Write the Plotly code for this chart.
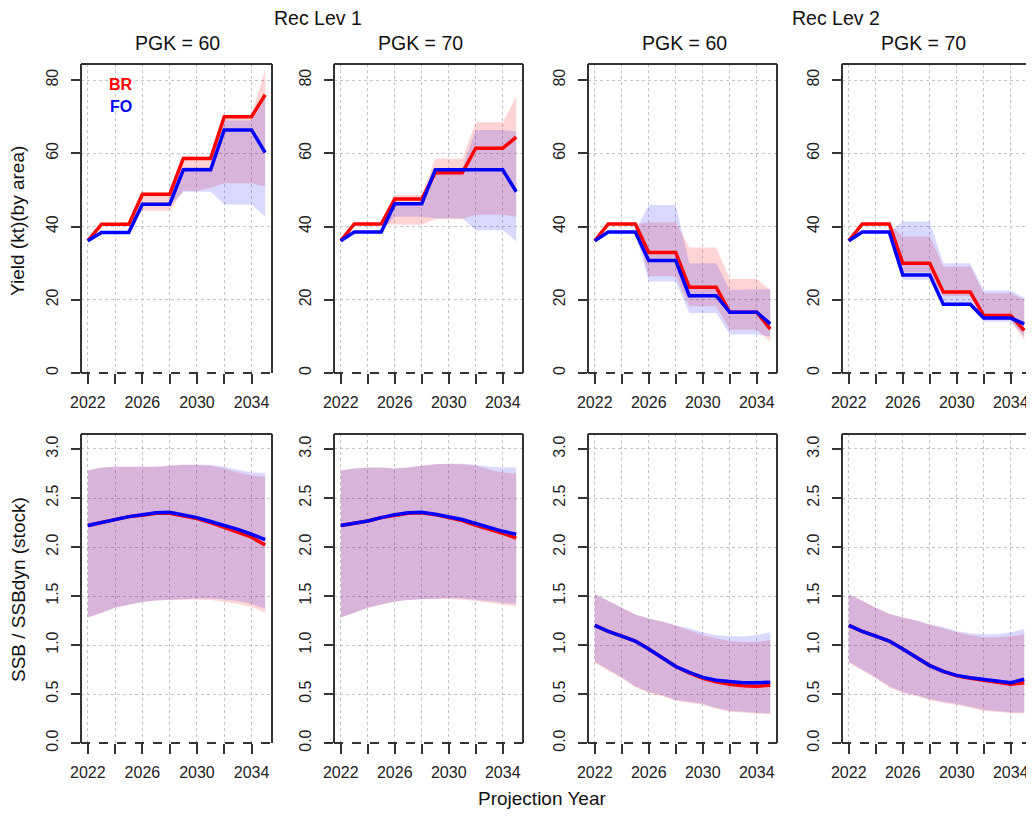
import plotly.graph_objects as go

# ---------------- data ----------------
years = list(range(2022, 2036))
x_tick_vals = [2022, 2024, 2026, 2028, 2030, 2032, 2034]
x_tick_text = ["2022", "", "2026", "", "2030", "", "2034"]
yield_tick_vals = [0, 20, 40, 60, 80]
yield_tick_text = ["0", "20", "40", "60", "80"]
ssb_tick_vals = [0.0, 0.5, 1.0, 1.5, 2.0, 2.5, 3.0]
ssb_tick_text = ["0.0", "0.5", "1.0", "1.5", "2.0", "2.5", "3.0"]

rec_levels = ["Rec Lev 1", "Rec Lev 2"]
pgk_labels = ["PGK = 60", "PGK = 70", "PGK = 60", "PGK = 70"]
series_names = ["BR", "FO"]
y_titles = ["Yield (kt)(by area)", "SSB / SSBdyn (stock)"]
x_title = "Projection Year"

# Yield, Rec Lev 1, PGK 60
yA_br_med = [36.1, 40.6, 40.6, 40.6, 48.8, 48.8, 48.8, 58.6, 58.6, 58.6, 70.0, 70.0, 70.0, 76.0]
yA_br_hi = [36.1, 40.6, 40.6, 40.6, 49.3, 49.3, 49.3, 59.2, 59.2, 59.2, 70.5, 70.5, 70.5, 83.0]
yA_br_lo = [36.1, 40.6, 40.6, 40.6, 44.3, 44.3, 44.3, 49.8, 49.8, 50.5, 51.8, 51.8, 51.8, 51.0]
yA_fo_med = [36.1, 38.4, 38.4, 38.4, 46.1, 46.1, 46.1, 55.5, 55.5, 55.5, 66.4, 66.4, 66.4, 60.2]
yA_fo_hi = [36.1, 38.4, 38.4, 38.4, 46.6, 46.6, 46.6, 56.3, 56.3, 56.3, 69.0, 69.0, 69.0, 75.0]
yA_fo_lo = [36.1, 38.4, 38.4, 38.4, 45.6, 45.6, 45.6, 49.5, 49.5, 49.5, 46.0, 46.0, 46.0, 42.7]

# Yield, Rec Lev 1, PGK 70
yB_br_med = [36.1, 40.7, 40.7, 40.7, 47.5, 47.5, 47.5, 54.7, 54.7, 54.7, 61.4, 61.4, 61.4, 64.4]
yB_br_hi = [36.1, 40.7, 40.7, 40.7, 48.6, 48.6, 48.6, 58.5, 58.5, 58.5, 68.5, 68.5, 68.5, 75.5]
yB_br_lo = [36.1, 40.7, 40.7, 40.7, 40.5, 40.5, 40.5, 42.0, 42.0, 42.0, 43.2, 43.2, 43.2, 42.7]
yB_fo_med = [36.1, 38.5, 38.5, 38.5, 46.2, 46.2, 46.2, 55.5, 55.5, 55.5, 55.5, 55.5, 55.5, 49.5]
yB_fo_hi = [36.1, 38.5, 38.5, 38.5, 46.7, 46.7, 46.7, 56.0, 56.0, 56.0, 66.4, 66.4, 66.4, 66.0]
yB_fo_lo = [36.1, 38.5, 38.5, 38.5, 42.7, 42.7, 42.7, 42.3, 42.3, 42.3, 39.0, 39.0, 39.0, 36.0]

# Yield, Rec Lev 2, PGK 60
yC_br_med = [36.1, 40.7, 40.7, 40.7, 32.9, 32.9, 32.9, 23.4, 23.4, 23.4, 16.6, 16.6, 16.6, 12.0]
yC_br_hi = [36.1, 40.7, 40.7, 40.7, 41.2, 41.2, 41.2, 34.3, 34.3, 34.3, 25.7, 25.7, 25.7, 22.7]
yC_br_lo = [36.1, 40.7, 40.7, 40.7, 26.4, 26.4, 26.4, 18.2, 18.2, 18.2, 11.8, 11.8, 11.8, 8.6]
yC_fo_med = [36.1, 38.5, 38.5, 38.5, 30.7, 30.7, 30.7, 21.1, 21.1, 21.1, 16.6, 16.6, 16.6, 13.4]
yC_fo_hi = [36.1, 38.5, 38.5, 38.5, 45.9, 45.9, 45.9, 30.0, 30.0, 30.0, 22.7, 22.7, 22.7, 22.9]
yC_fo_lo = [36.1, 38.5, 38.5, 38.5, 25.0, 25.0, 25.0, 16.4, 16.4, 16.4, 10.5, 10.5, 10.5, 10.0]

# Yield, Rec Lev 2, PGK 70
yD_br_med = [36.1, 40.7, 40.7, 40.7, 30.0, 30.0, 30.0, 22.1, 22.1, 22.1, 15.7, 15.7, 15.7, 11.6]
yD_br_hi = [36.1, 40.7, 40.7, 40.7, 37.3, 37.3, 37.3, 29.1, 29.1, 29.1, 21.8, 21.8, 21.8, 20.0]
yD_br_lo = [36.1, 40.7, 40.7, 40.7, 27.5, 27.5, 27.5, 21.0, 21.0, 21.0, 14.5, 14.5, 14.5, 9.0]
yD_fo_med = [36.1, 38.5, 38.5, 38.5, 26.8, 26.8, 26.8, 18.8, 18.8, 18.8, 15.0, 15.0, 15.0, 13.4]
yD_fo_hi = [36.1, 38.5, 38.5, 38.5, 41.4, 41.4, 41.4, 30.0, 30.0, 30.0, 22.5, 22.5, 22.5, 20.5]
yD_fo_lo = [36.1, 38.5, 38.5, 38.5, 25.5, 25.5, 25.5, 18.2, 18.2, 18.2, 14.0, 14.0, 14.0, 10.0]

# SSB/SSBdyn, Rec Lev 1, PGK 60
sA_br_med = [2.22, 2.25, 2.28, 2.31, 2.325, 2.345, 2.345, 2.32, 2.29, 2.25, 2.20, 2.15, 2.10, 2.02]
sA_br_hi = [2.78, 2.81, 2.82, 2.82, 2.815, 2.82, 2.83, 2.84, 2.84, 2.83, 2.80, 2.76, 2.73, 2.72]
sA_br_lo = [1.28, 1.33, 1.38, 1.41, 1.44, 1.455, 1.46, 1.465, 1.465, 1.46, 1.44, 1.42, 1.39, 1.33]
sA_fo_med = [2.22, 2.25, 2.28, 2.31, 2.33, 2.35, 2.355, 2.33, 2.30, 2.26, 2.22, 2.18, 2.13, 2.075]
sA_fo_hi = [2.78, 2.81, 2.82, 2.82, 2.815, 2.82, 2.83, 2.84, 2.84, 2.84, 2.82, 2.79, 2.76, 2.755]
sA_fo_lo = [1.28, 1.33, 1.38, 1.41, 1.44, 1.455, 1.46, 1.47, 1.475, 1.475, 1.465, 1.45, 1.42, 1.37]

# SSB/SSBdyn, Rec Lev 1, PGK 70
sB_br_med = [2.22, 2.245, 2.265, 2.30, 2.325, 2.345, 2.35, 2.33, 2.30, 2.27, 2.22, 2.18, 2.14, 2.09]
sB_br_hi = [2.78, 2.80, 2.81, 2.81, 2.80, 2.81, 2.83, 2.845, 2.85, 2.845, 2.83, 2.79, 2.76, 2.75]
sB_br_lo = [1.28, 1.33, 1.38, 1.41, 1.445, 1.46, 1.47, 1.47, 1.47, 1.465, 1.45, 1.43, 1.41, 1.395]
sB_fo_med = [2.22, 2.245, 2.265, 2.30, 2.33, 2.35, 2.355, 2.335, 2.31, 2.28, 2.24, 2.20, 2.16, 2.13]
sB_fo_hi = [2.78, 2.80, 2.81, 2.81, 2.80, 2.81, 2.83, 2.845, 2.85, 2.85, 2.84, 2.82, 2.81, 2.81]
sB_fo_lo = [1.28, 1.33, 1.38, 1.41, 1.445, 1.46, 1.47, 1.475, 1.48, 1.475, 1.465, 1.45, 1.43, 1.42]

# SSB/SSBdyn, Rec Lev 2, PGK 60
sC_br_med = [1.20, 1.14, 1.09, 1.04, 0.96, 0.87, 0.78, 0.715, 0.66, 0.625, 0.60, 0.585, 0.58, 0.59]
sC_br_hi = [1.52, 1.45, 1.38, 1.31, 1.27, 1.24, 1.20, 1.15, 1.10, 1.07, 1.04, 1.03, 1.03, 1.05]
sC_br_lo = [0.82, 0.74, 0.66, 0.57, 0.51, 0.48, 0.43, 0.41, 0.39, 0.35, 0.32, 0.31, 0.30, 0.295]
sC_fo_med = [1.20, 1.14, 1.09, 1.04, 0.96, 0.87, 0.78, 0.72, 0.67, 0.64, 0.625, 0.615, 0.615, 0.62]
sC_fo_hi = [1.52, 1.45, 1.38, 1.31, 1.27, 1.24, 1.20, 1.17, 1.13, 1.10, 1.09, 1.09, 1.10, 1.13]
sC_fo_lo = [0.83, 0.75, 0.67, 0.58, 0.52, 0.49, 0.44, 0.42, 0.40, 0.36, 0.33, 0.32, 0.31, 0.30]

# SSB/SSBdyn, Rec Lev 2, PGK 70
sD_br_med = [1.20, 1.14, 1.09, 1.04, 0.96, 0.87, 0.79, 0.73, 0.685, 0.66, 0.64, 0.62, 0.60, 0.615]
sD_br_hi = [1.52, 1.45, 1.38, 1.32, 1.28, 1.25, 1.21, 1.17, 1.13, 1.10, 1.08, 1.08, 1.09, 1.11]
sD_br_lo = [0.82, 0.74, 0.66, 0.57, 0.51, 0.48, 0.44, 0.41, 0.39, 0.36, 0.33, 0.315, 0.305, 0.30]
sD_fo_med = [1.20, 1.14, 1.09, 1.04, 0.96, 0.87, 0.79, 0.73, 0.69, 0.665, 0.65, 0.63, 0.615, 0.65]
sD_fo_hi = [1.52, 1.45, 1.38, 1.32, 1.28, 1.25, 1.21, 1.18, 1.14, 1.12, 1.11, 1.11, 1.13, 1.16]
sD_fo_lo = [0.83, 0.75, 0.67, 0.58, 0.52, 0.49, 0.45, 0.42, 0.40, 0.37, 0.34, 0.325, 0.315, 0.31]

# ---------------- layout helpers ----------------
# The page body has an 8px default margin: size the figure so nothing scrolls,
# and convert reference pixel positions into figure coordinates.
PAGE_OFF = 8
W, H = 1026, 803
FONT = "Liberation Sans, Arial, Helvetica, sans-serif"
RED, BLUE = "#FF0000", "#0000FF"
RED_FILL, BLUE_FILL = "rgba(255,0,0,0.17)", "rgba(0,0,255,0.15)"

col_px = [(81, 272), (334, 523), (588, 777), (842, 1031)]
row_px = [(64, 373), (434, 743)]


def px_x(p):
    return (p - PAGE_OFF) / W


def px_y(p):
    return 1 - (p - PAGE_OFF) / H


panels = [
    # (row, col, br_med, br_hi, br_lo, fo_med, fo_hi, fo_lo)
    (0, 0, yA_br_med, yA_br_hi, yA_br_lo, yA_fo_med, yA_fo_hi, yA_fo_lo),
    (0, 1, yB_br_med, yB_br_hi, yB_br_lo, yB_fo_med, yB_fo_hi, yB_fo_lo),
    (0, 2, yC_br_med, yC_br_hi, yC_br_lo, yC_fo_med, yC_fo_hi, yC_fo_lo),
    (0, 3, yD_br_med, yD_br_hi, yD_br_lo, yD_fo_med, yD_fo_hi, yD_fo_lo),
    (1, 0, sA_br_med, sA_br_hi, sA_br_lo, sA_fo_med, sA_fo_hi, sA_fo_lo),
    (1, 1, sB_br_med, sB_br_hi, sB_br_lo, sB_fo_med, sB_fo_hi, sB_fo_lo),
    (1, 2, sC_br_med, sC_br_hi, sC_br_lo, sC_fo_med, sC_fo_hi, sC_fo_lo),
    (1, 3, sD_br_med, sD_br_hi, sD_br_lo, sD_fo_med, sD_fo_hi, sD_fo_lo),
]

fig = go.Figure()
layout = {}
shapes = []

for i, (r, c, br_med, br_hi, br_lo, fo_med, fo_hi, fo_lo) in enumerate(panels, start=1):
    key = "" if i == 1 else str(i)
    xa, ya = "x" + key, "y" + key
    for hi, lo, fc in [(br_hi, br_lo, RED_FILL), (fo_hi, fo_lo, BLUE_FILL)]:
        fig.add_trace(go.Scatter(
            x=years + years[::-1], y=hi + lo[::-1], fill="toself",
            fillcolor=fc, line=dict(width=0), mode="lines",
            hoverinfo="skip", showlegend=False, xaxis=xa, yaxis=ya))
    for med, col, nm in [(br_med, RED, series_names[0]), (fo_med, BLUE, series_names[1])]:
        fig.add_trace(go.Scatter(
            x=years, y=med, mode="lines", name=nm,
            line=dict(color=col, width=3.5), showlegend=False,
            xaxis=xa, yaxis=ya))

    x0, x1 = col_px[c]
    y0, y1 = row_px[r]
    layout["xaxis" + key] = dict(
        domain=[px_x(x0), px_x(x1)], anchor=ya, range=[2021.5, 2035.5],
        tickvals=x_tick_vals, ticktext=x_tick_text, automargin=False,
        showgrid=True, gridcolor="#c4c4c4", griddash="dot", gridwidth=1,
        ticks="outside", ticklen=10, tickwidth=1.5, tickcolor="#333",
        showline=False, zeroline=False, ticklabelstandoff=5,
        tickfont=dict(family=FONT, size=16, color="#222"))
    if r == 0:
        rng, tv, tt = [0, 84.4], yield_tick_vals, yield_tick_text
    else:
        rng, tv, tt = [0, 3.153], ssb_tick_vals, ssb_tick_text
    layout["yaxis" + key] = dict(
        domain=[px_y(y1), px_y(y0)], anchor=xa, range=rng,
        tickvals=tv, ticktext=tt, tickangle=-90, automargin=False,
        showgrid=True, gridcolor="#c4c4c4", griddash="dot", gridwidth=1,
        ticks="outside", ticklen=9, tickwidth=1.5, tickcolor="#333",
        showline=False, zeroline=False, ticklabelstandoff=7,
        tickfont=dict(family=FONT, size=16, color="#222"))

    dx, dy = xa + " domain", ya + " domain"
    for (a0, b0, a1, b1) in [(0, 0, 0, 1), (0, 1, 1, 1), (1, 1, 1, 0)]:
        shapes.append(dict(type="line", xref=dx, yref=dy, x0=a0, y0=b0, x1=a1, y1=b1,
                           line=dict(color="#333", width=2)))
    shapes.append(dict(type="line", xref=dx, yref=dy, x0=0, y0=0, x1=1, y1=0,
                       line=dict(color="#333", width=1.8, dash="dash")))

annotations = []


def ann(text, x, y, size=19, color="#111", angle=0, bold=False):
    annotations.append(dict(
        text=f"<b>{text}</b>" if bold else text, x=px_x(x), y=px_y(y),
        xref="paper", yref="paper", showarrow=False, textangle=angle,
        xanchor="center", yanchor="middle",
        font=dict(family=FONT, size=size, color=color)))


ann(rec_levels[0], 318, 18, size=19.5)
ann(rec_levels[1], 836, 18, size=19.5)
for lbl, cx in zip(pgk_labels, [177, 420, 684, 923]):
    ann(lbl, cx, 43, size=19.5)
ann(y_titles[0], 18, 221, angle=-90)
ann(y_titles[1], 18, 590, angle=-90)
ann(x_title, 542, 798)
ann(series_names[0], 121, 85, size=16, color=RED, bold=True)
ann(series_names[1], 121, 106, size=16, color=BLUE, bold=True)

fig.update_layout(
    width=W, height=H, margin=dict(l=0, r=0, t=0, b=0, autoexpand=False),
    paper_bgcolor="white", plot_bgcolor="white", template="none",
    shapes=shapes, annotations=annotations, showlegend=False,
    **layout)

fig.write_html("out.html")
